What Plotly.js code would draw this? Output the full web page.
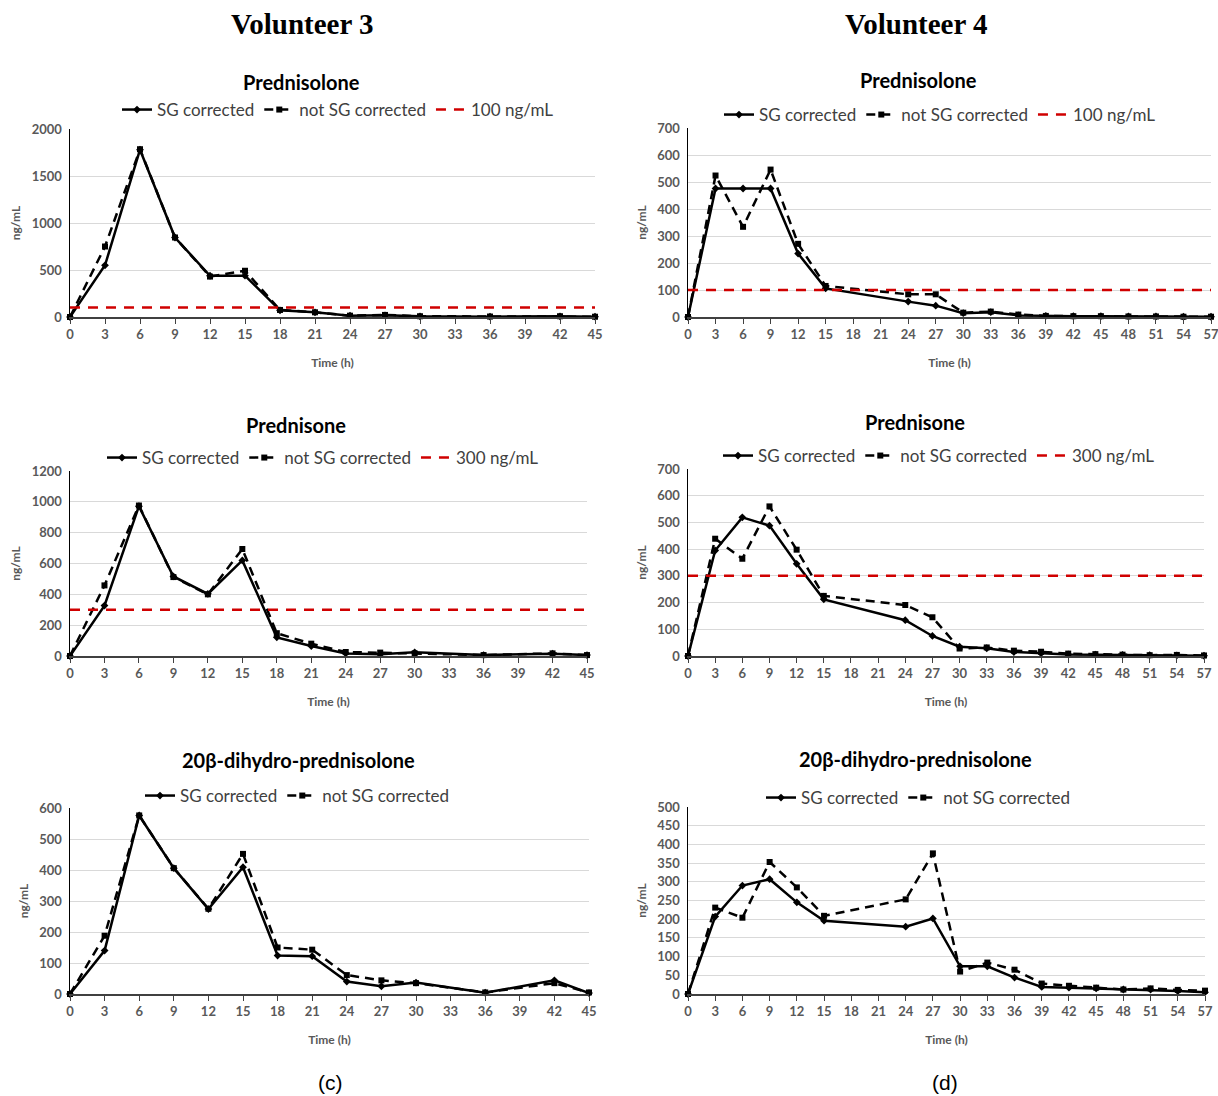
<!DOCTYPE html>
<html>
<head>
<meta charset="utf-8">
<script src="https://cdn.plot.ly/plotly-3.0.1.min.js"></script>
<style>html,body{margin:0;padding:0;background:#fff;}#chart{width:1218px;height:1096px;}</style>
</head>
<body>
<div id="chart"></div>
<script>
// ---------- DATA ----------
// Volunteer 3 time points (h)
const timeV3 = [0, 3, 6, 9, 12, 15, 18, 21, 24, 27, 30, 36, 42, 45];
// Volunteer 4 time points (h)
const timeV4 = [0, 3, 6, 9, 12, 15, 24, 27, 30, 33, 36, 39, 42, 45, 48, 51, 54, 57];

// Volunteer 3 - Prednisolone
const v3PrednisoloneSG    = [0, 550, 1780, 846, 439, 440, 71, 50, 14, 18, 7, 3, 7, 3];
const v3PrednisoloneNotSG = [0, 750, 1785, 846, 430, 492, 75, 50, 14, 22, 8, 5, 8, 3];
// Volunteer 3 - Prednisone
const v3PrednisoneSG    = [0, 327, 972, 516, 403, 620, 121, 65, 17, 11, 24, 6, 15, 6];
const v3PrednisoneNotSG = [0, 458, 976, 512, 400, 694, 148, 80, 26, 22, 17, 6, 17, 6];
// Volunteer 3 - 20beta-dihydro-prednisolone
const v3DihydroSG    = [0, 140, 576, 406, 274, 409, 124, 122, 40, 25, 37, 4, 44, 3];
const v3DihydroNotSG = [0, 188, 576, 406, 275, 452, 150, 143, 61, 44, 35, 5, 35, 5];

// Volunteer 4 - Prednisolone
const v4PrednisoloneSG    = [0, 476, 476, 476, 235, 106, 57, 42, 14, 18, 6, 4, 3, 3, 2, 2, 1, 1];
const v4PrednisoloneNotSG = [0, 524, 334, 546, 271, 115, 84, 84, 16, 20, 9, 4, 3, 3, 2, 2, 1, 1];
// Volunteer 4 - Prednisone
const v4PrednisoneSG    = [0, 395, 519, 488, 345, 212, 134, 75, 35, 29, 15, 10, 6, 5, 4, 3, 2, 1];
const v4PrednisoneNotSG = [0, 439, 364, 560, 398, 225, 191, 145, 28, 32, 20, 16, 9, 7, 5, 3, 4, 2];
// Volunteer 4 - 20beta-dihydro-prednisolone
const v4DihydroSG    = [0, 207, 290, 307, 245, 196, 180, 202, 74, 74, 44, 19, 17, 15, 12, 12, 8, 5];
const v4DihydroNotSG = [0, 231, 204, 353, 285, 209, 253, 376, 60, 84, 65, 28, 22, 17, 12, 15, 11, 9];

// Thresholds
const prednisoloneLimit = 100;
const prednisoneLimit = 300;

// Tick labels
const ticksV3 = [0,3,6,9,12,15,18,21,24,27,30,33,36,39,42,45];
const ticksV4 = [0,3,6,9,12,15,18,21,24,27,30,33,36,39,42,45,48,51,54,57];

const panels = [
  {title:'Prednisolone', t: timeV3, sg: v3PrednisoloneSG, ns: v3PrednisoloneNotSG, limit: prednisoloneLimit, ymax: 2000, dtick: 500, ticks: ticksV3,
   px:[70,595], py:[129,317], legX: 338, legY: 110, titleY: 82, titleX: 301},
  {title:'Prednisolone', t: timeV4, sg: v4PrednisoloneSG, ns: v4PrednisoloneNotSG, limit: prednisoloneLimit, ymax: 700, dtick: 100, ticks: ticksV4,
   px:[688,1211], py:[128,317], legX: 940, legY: 115, titleY: 80, titleX: 918},
  {title:'Prednisone', t: timeV3, sg: v3PrednisoneSG, ns: v3PrednisoneNotSG, limit: prednisoneLimit, ymax: 1200, dtick: 200, ticks: ticksV3,
   px:[70,587], py:[471,656], legX: 323, legY: 458, titleY: 425, titleX: 296},
  {title:'Prednisone', t: timeV4, sg: v4PrednisoneSG, ns: v4PrednisoneNotSG, limit: prednisoneLimit, ymax: 700, dtick: 100, ticks: ticksV4,
   px:[688,1204], py:[469,656], legX: 939, legY: 456, titleY: 422, titleX: 915},
  {title:'20β-dihydro-prednisolone', t: timeV3, sg: v3DihydroSG, ns: v3DihydroNotSG, limit: null, ymax: 600, dtick: 100, ticks: ticksV3,
   px:[70,589], py:[808,994], legX: 297, legY: 796, titleY: 760, titleX: 298},
  {title:'20β-dihydro-prednisolone', t: timeV4, sg: v4DihydroSG, ns: v4DihydroNotSG, limit: null, ymax: 500, dtick: 50, ticks: ticksV4,
   px:[688,1205], py:[807,994], legX: 918, legY: 798, titleY: 759, titleX: 915}
];

// ---------- BUILD ----------
const W = 1218, H = 1096;
const FONT = 'Lato, "Open Sans", sans-serif';
const traces = [];
const layout = {
  width: W, height: H,
  margin: {l:0, r:0, t:0, b:0},
  paper_bgcolor: '#ffffff', plot_bgcolor: '#ffffff',
  font: {family: FONT, color: '#404040'},
  annotations: [],
  showlegend: true
};

panels.forEach((p, i) => {
  const n = i + 1;
  const xa = n === 1 ? 'x' : 'x' + n;
  const ya = n === 1 ? 'y' : 'y' + n;
  const legName = n === 1 ? 'legend' : 'legend' + n;
  const xmax = p.ticks[p.ticks.length - 1];

  traces.push({
    type: 'scatter', mode: 'lines+markers', name: 'SG corrected',
    x: p.t, y: p.sg, xaxis: xa, yaxis: ya, legend: legName,
    line: {color: '#000000', width: 2.5},
    marker: {symbol: 'diamond', size: 6, color: '#000000'},
    cliponaxis: false
  });
  traces.push({
    type: 'scatter', mode: 'lines+markers', name: 'not SG corrected',
    x: p.t, y: p.ns, xaxis: xa, yaxis: ya, legend: legName,
    line: {color: '#000000', width: 2.5, dash: '9px,6px'},
    marker: {symbol: 'square', size: 6, color: '#000000'},
    cliponaxis: false
  });
  if (p.limit !== null) {
    traces.push({
      type: 'scatter', mode: 'lines', name: p.limit + ' ng/mL',
      x: [0, xmax], y: [p.limit, p.limit], xaxis: xa, yaxis: ya, legend: legName,
      line: {color: '#d00000', width: 2.5, dash: '10px,8px'},
      hoverinfo: 'skip'
    });
  }

  const xKey = n === 1 ? 'xaxis' : 'xaxis' + n;
  const yKey = n === 1 ? 'yaxis' : 'yaxis' + n;
  const tf = {family: FONT, size: 13, color: '#595959', weight: 'bold'};
  layout[xKey] = {
    domain: [p.px[0] / W, p.px[1] / W],
    anchor: ya,
    range: [0, xmax],
    tickvals: p.ticks,
    ticktext: p.ticks.map(String),
    ticklabeloverflow: 'allow',
    showgrid: false, zeroline: false,
    showline: true, linecolor: '#404040', linewidth: 1.5,
    ticks: 'outside', ticklen: 5, tickcolor: '#404040',
    tickfont: tf,
    title: {text: '<b>Time (h)</b>', font: {family: FONT, size: 12, color: '#595959'}, standoff: 17},
    fixedrange: true
  };
  layout[yKey] = {
    domain: [1 - p.py[1] / H, 1 - p.py[0] / H],
    anchor: xa,
    range: [0, p.ymax],
    dtick: p.dtick, tick0: 0,
    showgrid: true, gridcolor: '#d9d9d9', gridwidth: 1,
    zeroline: false,
    showline: true, linecolor: '#000000', linewidth: 1.5,
    ticks: '',
    ticklabelstandoff: 4,
    ticklabeloverflow: 'allow',
    tickfont: tf,
    title: {text: '<b>ng/mL</b>', font: {family: FONT, size: 12, color: '#595959'}, standoff: 8},
    fixedrange: true
  };
  layout[legName] = {
    orientation: 'h',
    x: p.legX / W, y: 1 - p.legY / H,
    xanchor: 'center', yanchor: 'middle',
    font: {family: FONT, size: 17, color: '#404040'},
    bgcolor: 'rgba(0,0,0,0)',
    itemwidth: 30,
    tracegroupgap: 0
  };
  layout.annotations.push({
    text: '<b>' + p.title + '</b>', xref: 'paper', yref: 'paper',
    x: p.titleX / W, y: 1 - p.titleY / H, xanchor: 'center', yanchor: 'middle',
    showarrow: false, font: {family: FONT, size: 20, color: '#000000'}
  });
});

// Column headers and panel labels
layout.annotations.push(
  {text: '<b>Volunteer 3</b>', xref:'paper', yref:'paper', x: 302/W, y: 1 - 24/H, xanchor:'center', yanchor:'middle',
   showarrow:false, font:{family:'"Liberation Serif", "Times New Roman", serif', size: 29, color:'#000000'}},
  {text: '<b>Volunteer 4</b>', xref:'paper', yref:'paper', x: 916/W, y: 1 - 24/H, xanchor:'center', yanchor:'middle',
   showarrow:false, font:{family:'"Liberation Serif", "Times New Roman", serif', size: 29, color:'#000000'}},
  {text: '(c)', xref:'paper', yref:'paper', x: 330/W, y: 1 - 1082/H, xanchor:'center', yanchor:'middle',
   showarrow:false, font:{family:'"Liberation Sans", Arial, sans-serif', size: 21, color:'#000000'}},
  {text: '(d)', xref:'paper', yref:'paper', x: 945/W, y: 1 - 1082/H, xanchor:'center', yanchor:'middle',
   showarrow:false, font:{family:'"Liberation Sans", Arial, sans-serif', size: 21, color:'#000000'}}
);

Plotly.newPlot('chart', traces, layout, {displayModeBar: false, staticPlot: true});
</script>
</body>
</html>
